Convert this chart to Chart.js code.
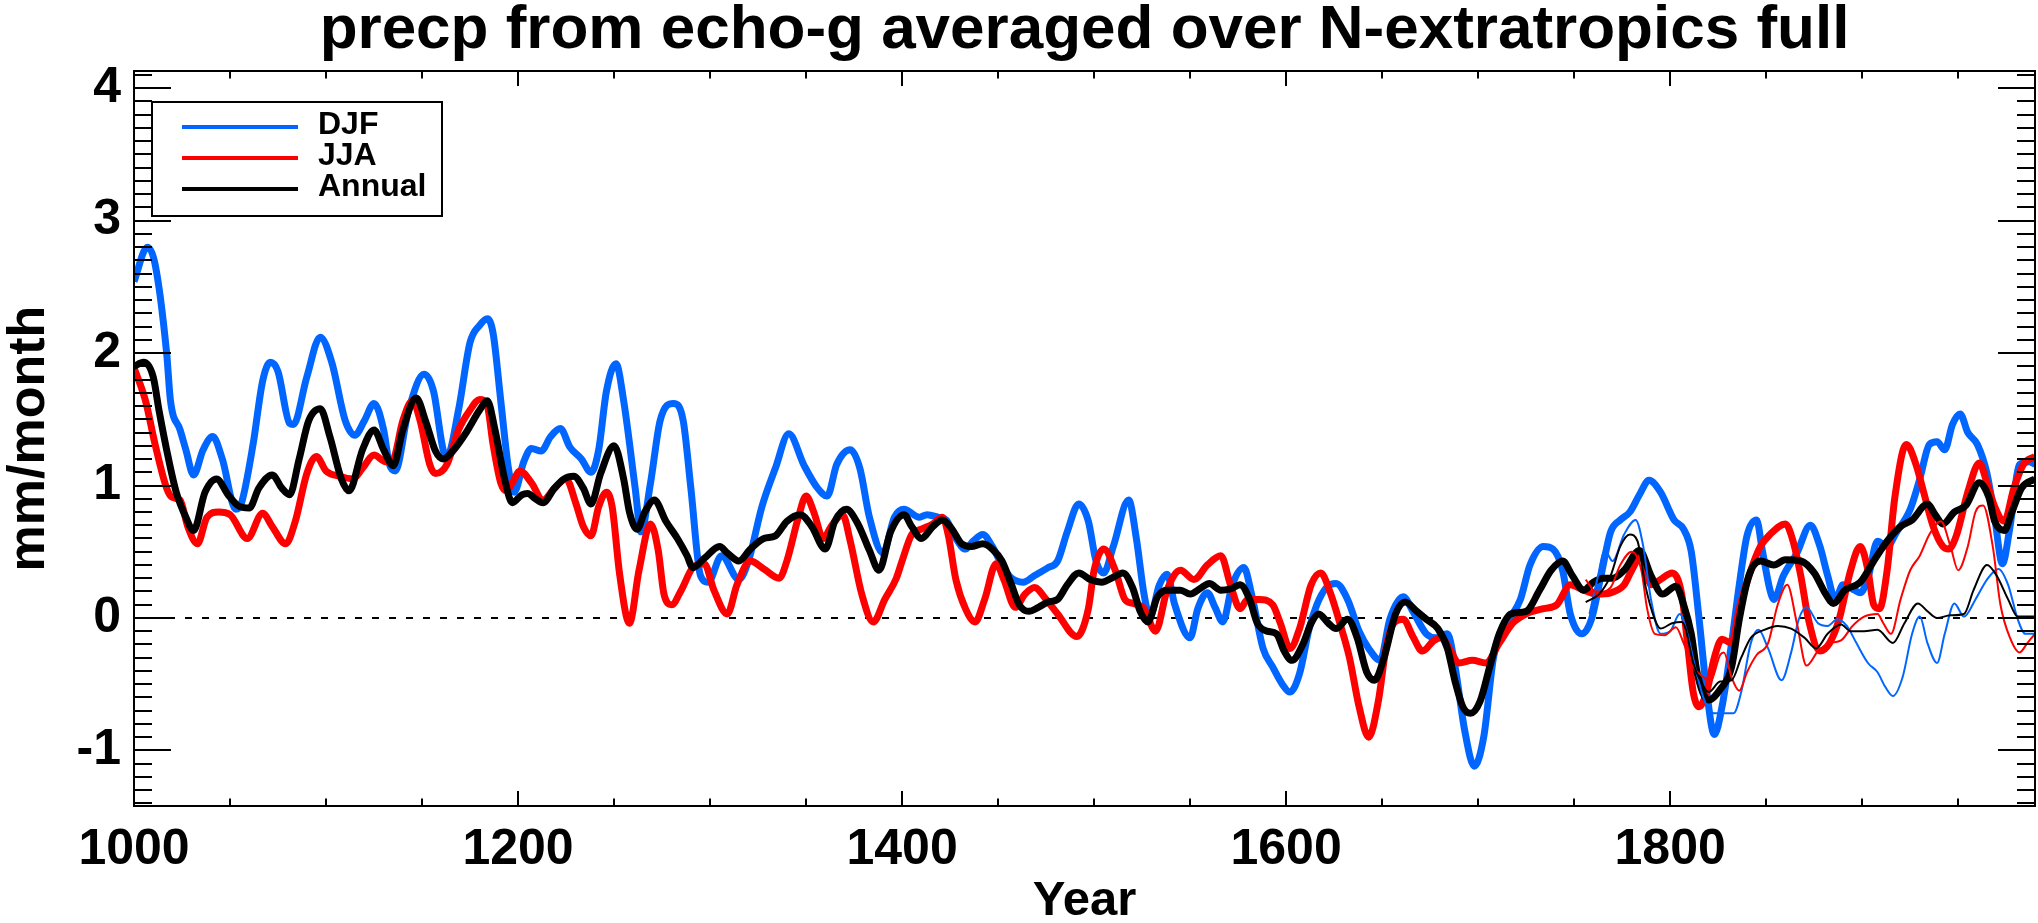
<!DOCTYPE html>
<html>
<head>
<meta charset="utf-8">
<script src="https://cdn.jsdelivr.net/npm/chart.js@4.4.0/dist/chart.umd.min.js"></script>
<style>
  html, body { margin: 0; padding: 0; background: #fff; }
</style>
</head>
<body>
<canvas id="chart" width="2038" height="923"></canvas>
<script>
const titleText = 'precp from echo-g averaged over N-extratropics full';
const xTickYears = [1000, 1200, 1400, 1600, 1800];
const yTickValues = [-1, 0, 1, 2, 3, 4];

// thick curves (full run)
const djfYears = [1000,1007,1011,1017,1019,1024,1027,1031,1036,1041,1046,1053,1056,1062,1067,1071,1075,1081,1083,1090,1097,1103,1110,1115,1120,1125,1130,1133,1136,1143,1151,1156,1161,1163,1169,1175,1180,1184,1187,1191,1195,1198,1203,1207,1212,1217,1222,1227,1233,1238,1242,1246,1251,1255,1261,1264,1269,1274,1281,1286,1290,1295,1299,1306,1315,1320,1327,1334,1341,1349,1356,1361,1366,1373,1378,1383,1390,1396,1401,1409,1413,1419,1423,1428,1433,1437,1442,1447,1452,1457,1463,1469,1476,1481,1486,1492,1497,1501,1505,1510,1518,1522,1526,1529,1534,1538,1542,1550,1554,1559,1563,1567,1572,1578,1582,1588,1593,1598,1602,1607,1612,1616,1621,1626,1632,1638,1643,1649,1654,1661,1666,1673,1678,1684,1688,1693,1698,1703,1708,1715,1722,1727,1734,1739,1744,1748,1754,1759,1764,1769,1774,1779,1784,1789,1795,1802,1807,1811,1815,1819,1823,1827,1832,1836,1840,1845,1848,1852,1854,1859,1866,1873,1878,1882,1886,1890,1896,1899,1903,1908,1913,1918,1925,1930,1935,1939,1943,1947,1951,1955,1960,1965,1969,1973,1977,1982,1987,1990];
const djfValues = [2.54,2.80,2.67,2.00,1.64,1.42,1.27,1.08,1.27,1.37,1.20,0.82,0.87,1.31,1.79,1.93,1.86,1.47,1.46,1.82,2.12,1.93,1.49,1.38,1.49,1.62,1.42,1.16,1.11,1.57,1.84,1.71,1.27,1.22,1.57,2.08,2.21,2.26,2.15,1.64,1.13,0.95,1.18,1.28,1.26,1.37,1.43,1.29,1.20,1.10,1.27,1.71,1.92,1.64,0.98,0.65,1.02,1.49,1.62,1.49,0.98,0.32,0.27,0.47,0.29,0.43,0.84,1.13,1.39,1.15,0.98,0.92,1.16,1.27,1.13,0.76,0.49,0.76,0.82,0.76,0.78,0.76,0.74,0.60,0.52,0.58,0.63,0.54,0.40,0.30,0.27,0.32,0.38,0.43,0.65,0.86,0.73,0.43,0.34,0.54,0.89,0.60,0.18,0.01,0.25,0.33,0.10,-0.15,0.07,0.19,0.08,-0.03,0.25,0.38,0.18,-0.23,-0.37,-0.50,-0.56,-0.42,-0.08,0.10,0.23,0.26,0.14,-0.10,-0.23,-0.32,-0.01,0.16,0.05,-0.12,-0.15,-0.12,-0.37,-0.85,-1.12,-0.89,-0.30,-0.04,0.14,0.40,0.54,0.52,0.36,0.03,-0.12,-0.01,0.32,0.65,0.74,0.80,0.93,1.04,0.95,0.74,0.67,0.50,0.00,-0.55,-0.88,-0.67,-0.19,0.25,0.62,0.74,0.51,0.21,0.14,0.32,0.49,0.70,0.54,0.32,0.14,0.25,0.21,0.19,0.30,0.58,0.54,0.65,0.82,1.05,1.31,1.33,1.27,1.46,1.54,1.40,1.31,1.09,0.76,0.41,0.69,1.16,1.18,1.16];

const jjaYears = [1000,1006,1011,1017,1020,1024,1028,1033,1038,1044,1050,1059,1067,1072,1079,1084,1090,1095,1100,1107,1114,1119,1125,1131,1135,1140,1145,1149,1154,1157,1163,1169,1175,1180,1184,1187,1191,1194,1197,1201,1207,1213,1219,1225,1230,1234,1238,1242,1246,1249,1253,1258,1263,1269,1273,1276,1280,1285,1291,1297,1302,1309,1314,1321,1328,1336,1340,1346,1350,1354,1359,1363,1369,1373,1379,1385,1391,1397,1400,1405,1410,1416,1421,1424,1428,1433,1438,1443,1449,1453,1459,1464,1469,1475,1481,1491,1497,1500,1505,1511,1516,1520,1526,1532,1538,1545,1552,1559,1566,1571,1576,1580,1586,1593,1597,1602,1607,1613,1618,1623,1628,1633,1638,1643,1648,1652,1656,1661,1666,1671,1677,1681,1685,1690,1697,1704,1711,1718,1725,1734,1741,1748,1755,1762,1769,1776,1780,1785,1790,1795,1801,1806,1809,1812,1815,1819,1823,1827,1832,1836,1842,1847,1852,1860,1864,1868,1872,1878,1883,1888,1894,1899,1903,1906,1909,1913,1917,1923,1928,1932,1937,1942,1945,1949,1955,1961,1965,1969,1974,1979,1984,1990];
const jjaValues = [1.89,1.64,1.31,0.98,0.91,0.89,0.69,0.56,0.76,0.80,0.78,0.60,0.79,0.69,0.56,0.73,1.09,1.22,1.11,1.07,1.05,1.13,1.23,1.18,1.20,1.49,1.64,1.49,1.16,1.09,1.16,1.42,1.57,1.65,1.60,1.31,1.02,0.96,1.02,1.11,1.02,0.89,0.98,1.05,0.87,0.69,0.62,0.84,0.95,0.84,0.32,-0.04,0.36,0.71,0.51,0.18,0.10,0.21,0.38,0.41,0.21,0.03,0.25,0.43,0.37,0.30,0.43,0.76,0.92,0.80,0.60,0.69,0.78,0.58,0.18,-0.03,0.14,0.30,0.43,0.63,0.67,0.71,0.76,0.63,0.29,0.07,-0.03,0.14,0.41,0.29,0.08,0.18,0.23,0.14,0.03,-0.14,0.07,0.36,0.52,0.36,0.14,0.11,0.07,-0.10,0.21,0.36,0.29,0.40,0.47,0.25,0.07,0.14,0.14,0.10,-0.04,-0.23,-0.08,0.25,0.34,0.19,-0.04,-0.30,-0.67,-0.90,-0.63,-0.23,-0.04,-0.01,-0.14,-0.25,-0.17,-0.15,-0.23,-0.34,-0.32,-0.34,-0.19,-0.04,0.03,0.07,0.10,0.25,0.21,0.18,0.19,0.25,0.36,0.47,0.25,0.29,0.34,0.18,-0.19,-0.56,-0.67,-0.56,-0.30,-0.16,-0.19,0.07,0.36,0.54,0.63,0.71,0.58,0.32,-0.01,-0.25,-0.19,-0.01,0.36,0.54,0.36,0.10,0.07,0.36,0.91,1.31,1.16,0.95,0.69,0.54,0.52,0.62,0.95,1.17,1.02,0.84,0.73,0.98,1.16,1.22];

const annYears = [1000,1005,1010,1013,1018,1022,1027,1031,1037,1043,1049,1054,1060,1065,1072,1077,1081,1086,1091,1097,1102,1108,1112,1119,1125,1130,1135,1140,1147,1152,1157,1161,1166,1173,1180,1184,1188,1193,1197,1202,1205,1209,1213,1219,1224,1229,1234,1238,1243,1250,1255,1258,1262,1266,1271,1277,1283,1288,1291,1297,1305,1309,1315,1321,1328,1334,1340,1347,1353,1360,1365,1371,1377,1383,1388,1394,1401,1405,1410,1416,1421,1426,1431,1436,1442,1447,1452,1457,1461,1466,1471,1476,1481,1486,1492,1498,1504,1509,1515,1520,1524,1528,1533,1538,1545,1550,1556,1560,1566,1571,1576,1581,1585,1590,1595,1599,1603,1609,1613,1617,1622,1626,1632,1637,1642,1646,1651,1657,1662,1668,1673,1679,1684,1688,1692,1696,1701,1706,1711,1717,1725,1732,1738,1744,1749,1755,1760,1765,1770,1776,1784,1790,1796,1803,1807,1811,1814,1820,1826,1832,1836,1841,1847,1854,1860,1868,1875,1881,1885,1891,1899,1906,1913,1920,1926,1934,1938,1942,1948,1954,1961,1966,1969,1974,1978,1983,1990];
const annValues = [1.90,1.93,1.82,1.57,1.20,0.95,0.76,0.66,0.95,1.05,0.93,0.85,0.83,0.98,1.08,0.98,0.93,1.20,1.49,1.58,1.37,1.05,0.96,1.27,1.42,1.27,1.15,1.42,1.66,1.48,1.26,1.20,1.26,1.40,1.57,1.64,1.42,1.05,0.87,0.93,0.94,0.90,0.87,0.98,1.05,1.07,0.98,0.86,1.09,1.30,1.05,0.80,0.67,0.80,0.89,0.73,0.60,0.47,0.38,0.45,0.54,0.49,0.43,0.52,0.60,0.62,0.73,0.78,0.69,0.52,0.73,0.82,0.71,0.51,0.36,0.65,0.78,0.69,0.60,0.69,0.74,0.67,0.56,0.54,0.56,0.52,0.43,0.25,0.10,0.05,0.08,0.12,0.14,0.25,0.34,0.29,0.27,0.30,0.34,0.23,0.05,-0.03,0.16,0.21,0.21,0.18,0.23,0.26,0.21,0.22,0.25,0.14,-0.04,-0.10,-0.12,-0.25,-0.32,-0.19,-0.04,0.03,-0.04,-0.08,-0.01,-0.15,-0.41,-0.47,-0.30,0.03,0.12,0.05,-0.01,-0.08,-0.23,-0.48,-0.67,-0.72,-0.63,-0.37,-0.12,0.03,0.05,0.21,0.36,0.43,0.32,0.21,0.27,0.30,0.30,0.36,0.51,0.32,0.18,0.24,0.10,-0.12,-0.41,-0.62,-0.54,-0.37,-0.01,0.32,0.43,0.40,0.44,0.43,0.34,0.18,0.11,0.21,0.27,0.43,0.58,0.69,0.74,0.86,0.78,0.71,0.80,0.85,1.02,0.91,0.73,0.66,0.80,0.98,1.05];

// thin curves (recent run, from 1756)
const djfThinYears = [1758,1762,1766,1770,1776,1782,1786,1790,1795,1800,1805,1809,1813,1818,1823,1828,1833,1837,1842,1846,1851,1858,1863,1867,1871,1877,1882,1887,1892,1897,1903,1908,1912,1916,1921,1926,1930,1934,1939,1943,1948,1953,1959,1965,1971,1976,1981,1985,1990];
const djfThinValues = [0.03,0.29,0.51,0.43,0.63,0.74,0.54,0.14,-0.12,-0.10,0.03,-0.12,-0.37,-0.63,-0.72,-0.72,-0.72,-0.56,-0.19,-0.09,-0.23,-0.47,-0.26,-0.01,0.08,-0.04,-0.06,-0.01,-0.06,-0.19,-0.34,-0.41,-0.52,-0.59,-0.45,-0.12,0.01,-0.19,-0.34,-0.12,0.11,0.01,0.14,0.29,0.37,0.25,-0.01,-0.12,-0.12];

const jjaThinYears = [1756,1762,1769,1774,1780,1785,1788,1792,1797,1803,1807,1812,1816,1821,1826,1828,1832,1836,1840,1845,1851,1856,1861,1866,1871,1877,1883,1889,1895,1901,1908,1911,1915,1920,1925,1930,1935,1941,1946,1950,1955,1959,1963,1968,1972,1977,1982,1986,1990];
const jjaThinValues = [0.29,0.19,0.23,0.40,0.50,0.36,0.07,-0.12,-0.13,-0.07,-0.19,-0.37,-0.43,-0.48,-0.28,-0.26,-0.45,-0.55,-0.41,-0.28,-0.19,0.10,0.25,-0.04,-0.36,-0.25,-0.19,-0.17,-0.06,0.01,0.03,-0.04,-0.12,0.14,0.36,0.47,0.63,0.73,0.54,0.36,0.54,0.80,0.85,0.54,0.10,-0.15,-0.26,-0.19,-0.12];

const annThinYears = [1756,1763,1769,1774,1779,1783,1787,1792,1795,1801,1806,1808,1812,1816,1820,1826,1832,1837,1842,1849,1856,1863,1870,1876,1882,1889,1894,1901,1908,1916,1922,1929,1934,1939,1946,1953,1958,1965,1970,1976,1981,1990];
const annThinValues = [0.12,0.18,0.32,0.54,0.63,0.58,0.25,-0.01,-0.08,-0.04,-0.03,-0.08,-0.34,-0.48,-0.56,-0.48,-0.47,-0.30,-0.15,-0.09,-0.06,-0.08,-0.15,-0.23,-0.12,-0.05,-0.10,-0.10,-0.09,-0.19,-0.04,0.11,0.05,0.00,0.02,0.03,0.21,0.40,0.32,0.14,0.01,0.01];

const zeroYears = [1000, 1990];
const zeroValues = [0, 0];

const legendLabels = ['DJF', 'JJA', 'Annual'];
const blue = '#0066ff';
const red = '#ff0000';
const black = '#000000';

function toPoints(years, values) {
    return years.map((yr, i) => ({ x: yr, y: values[i] }));
}

function curve(label, years, values, color, width, order) {
    return {
        label: label,
        data: toPoints(years, values),
        borderColor: color,
        borderWidth: width,
        pointRadius: 0,
        fill: false,
        cubicInterpolationMode: 'monotone',
        order: order
    };
}

// inward ticks on all four sides plus the frame, IDL style
const frameTicks = {
    id: 'frameTicks',
    afterDatasetsDraw(chart) {
        const { ctx, chartArea: a, scales: { x, y } } = chart;
        ctx.save();
        ctx.strokeStyle = '#000';
        ctx.lineWidth = 2;
        ctx.beginPath();
        for (let yr = 1050; yr < 1990; yr += 50) {
            const px = Math.round(x.getPixelForValue(yr));
            const len = yr % 200 === 0 ? 15 : 7.5;
            ctx.moveTo(px, a.bottom);
            ctx.lineTo(px, a.bottom - len);
            ctx.moveTo(px, a.top);
            ctx.lineTo(px, a.top + len);
        }
        for (let k = -14; k <= 41; k++) {
            const py = Math.round(y.getPixelForValue(k / 10));
            const len = k % 10 === 0 ? 37 : 18;
            ctx.moveTo(a.left, py);
            ctx.lineTo(a.left + len, py);
            ctx.moveTo(a.right, py);
            ctx.lineTo(a.right - len, py);
        }
        ctx.stroke();
        ctx.strokeRect(a.left, a.top, a.right - a.left, a.bottom - a.top);
        ctx.restore();
    }
};

const boxLegend = {
    id: 'boxLegend',
    afterDatasetsDraw(chart) {
        const ctx = chart.ctx;
        const colors = [blue, red, black];
        ctx.save();
        ctx.fillStyle = '#fff';
        ctx.fillRect(152, 102, 290, 114);
        ctx.strokeStyle = '#000';
        ctx.lineWidth = 2;
        ctx.strokeRect(152, 102, 290, 114);
        ctx.font = 'bold 32px "Liberation Sans", Arial, sans-serif';
        ctx.textBaseline = 'middle';
        ctx.textAlign = 'left';
        legendLabels.forEach((lab, i) => {
            const ly = 127 + i * 31;
            ctx.strokeStyle = colors[i];
            ctx.lineWidth = 4;
            ctx.beginPath();
            ctx.moveTo(182, ly);
            ctx.lineTo(298, ly);
            ctx.stroke();
            ctx.fillStyle = '#000';
            ctx.fillText(lab, 318, ly - 2);
        });
        ctx.restore();
    }
};

Chart.defaults.font.family = '"Liberation Sans", Arial, Helvetica, sans-serif';
Chart.defaults.font.weight = 'bold';
Chart.defaults.color = '#000';

const ctx = document.getElementById('chart').getContext('2d');
const myChart = new Chart(ctx, {
    type: 'line',
    data: {
        datasets: [
            curve('Annual (recent)', annThinYears, annThinValues, black, 2, 0),
            curve('JJA (recent)', jjaThinYears, jjaThinValues, red, 2, 1),
            curve('DJF (recent)', djfThinYears, djfThinValues, blue, 2, 2),
            curve('Annual', annYears, annValues, black, 7, 3),
            curve('JJA', jjaYears, jjaValues, red, 7, 4),
            curve('DJF', djfYears, djfValues, blue, 7, 5),
            {
                label: 'zero',
                data: toPoints(zeroYears, zeroValues),
                borderColor: '#000',
                borderWidth: 2,
                borderDash: [7, 10],
                pointRadius: 0,
                order: 6
            }
        ]
    },
    options: {
        responsive: false,
        animation: false,
        devicePixelRatio: 1,
        layout: { padding: { left: 0, right: 3, top: 0, bottom: 0 } },
        plugins: {
            legend: { display: false },
            tooltip: { enabled: false },
            title: {
                display: true,
                text: titleText,
                fullSize: false,
                color: '#000',
                font: { size: 62, weight: 'bold', lineHeight: 1 },
                padding: { top: 0, bottom: 9 }
            }
        },
        scales: {
            x: {
                type: 'linear',
                min: 1000,
                max: 1990,
                afterFit: s => { s.height = 117; },
                afterBuildTicks: s => { s.ticks = xTickYears.map(v => ({ value: v })); },
                grid: { display: false, drawTicks: false },
                border: { display: false },
                ticks: {
                    color: '#000',
                    font: { size: 50, weight: 'bold', lineHeight: 1.2 },
                    padding: 14,
                    maxRotation: 0,
                    autoSkip: false,
                    callback: v => String(v)
                },
                title: {
                    display: true,
                    text: 'Year',
                    color: '#000',
                    font: { size: 49, weight: 'bold', lineHeight: 1 },
                    padding: { top: 0, bottom: -3 }
                }
            },
            y: {
                min: -1.42,
                max: 4.13,
                afterFit: s => { s.width = 134; },
                afterBuildTicks: s => { s.ticks = yTickValues.map(v => ({ value: v })); },
                grid: { display: false, drawTicks: false },
                border: { display: false },
                ticks: {
                    color: '#000',
                    font: { size: 50, weight: 'bold' },
                    padding: 13,
                    callback: v => String(v)
                },
                title: {
                    display: true,
                    text: 'mm/month',
                    color: '#000',
                    font: { size: 52, weight: 'bold', lineHeight: 1 },
                    padding: { top: 4, bottom: 0 }
                }
            }
        }
    },
    plugins: [frameTicks, boxLegend]
});
</script>
</body>
</html>
